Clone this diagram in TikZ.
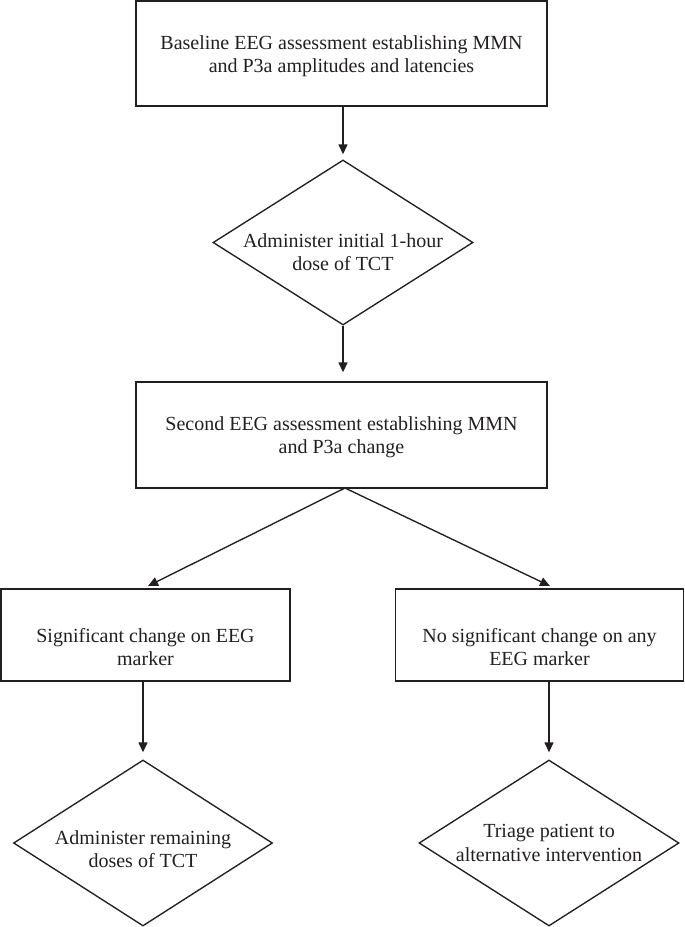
\documentclass[tikz,border=0pt]{standalone}
\usepackage{fontspec}
\setmainfont{Liberation Serif}
\usetikzlibrary{arrows.meta,shapes.geometric,calc}
\definecolor{ink}{HTML}{231F20}
\begin{document}
\begin{tikzpicture}[x=1pt,y=-1pt,
  box/.style={draw=ink,line width=1.35pt,rectangle,inner sep=0pt},
  dia/.style={draw=ink,line width=1.35pt,diamond,inner sep=0pt},
  txt/.style={text=ink,align=center,font=\fontsize{20}{23.5}\selectfont,inner sep=0pt},
  arr/.style={draw=ink,line width=1.35pt,-{Triangle[length=10pt,width=9pt]}},
]
\useasboundingbox (0,0) rectangle (685,927);
% boxes
\node[box,minimum width=411pt,minimum height=105pt] (b1) at (341.5,53.5) {};
\node[txt] (t1) at (341.5,56) {Baseline EEG assessment establishing MMN\\and P3a amplitudes and latencies};
\node[dia,minimum width=260pt,minimum height=165pt] (d1) at (343,242.5) {};
\node[txt] (td1) at (343,252) {Administer initial 1-hour\\dose of TCT};
\node[box,minimum width=411pt,minimum height=106pt] (b2) at (341.5,435) {};
\node[txt] (t2) at (341.5,437) {Second EEG assessment establishing MMN\\and P3a change};
\node[box,minimum width=289pt,minimum height=92pt] (b3) at (145.5,635) {};
\node[txt] (t3) at (145.5,647) {Significant change on EEG\\marker};
\node[box,minimum width=288pt,minimum height=92pt] (b4) at (539.5,635) {};
\node[txt] (t4) at (539.5,647) {No significant change on any\\EEG marker};
\node[dia,minimum width=259pt,minimum height=166pt] (d3) at (143,843) {};
\node[txt] (td3) at (143,849) {Administer remaining\\doses of TCT};
\node[dia,minimum width=260pt,minimum height=166pt] (d4) at (549,843) {};
\node[txt] (td4) at (549,843) {Triage patient to\\alternative intervention};
% connectors
\coordinate (s2) at (345,488);
\coordinate (e3) at (148,586);
\coordinate (e4) at (550,586);
\draw[arr,shorten >=5pt] (b1.south -| d1.north) -- (d1.north);
\draw[arr,shorten >=9pt] (d1.south) -- (d1.south |- b2.north);
\draw[arr] (s2) -- (e3);
\draw[arr] (s2) -- (e4);
\draw[arr,shorten >=7pt] (b3.south -| d3.north) -- (d3.north);
\draw[arr,shorten >=7pt] (b4.south -| d4.north) -- (d4.north);
\end{tikzpicture}
\end{document}
